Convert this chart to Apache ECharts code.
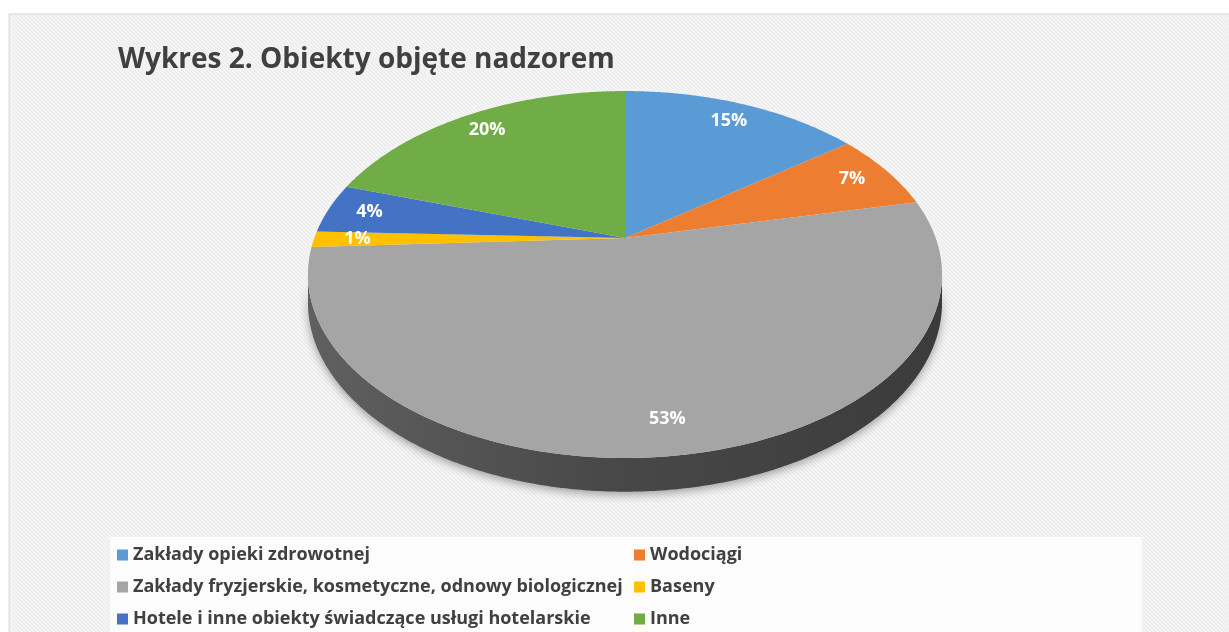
<!DOCTYPE html>
<html>
<head>
<meta charset="utf-8">
<title>Wykres 2. Obiekty objęte nadzorem</title>
<script src="https://cdn.jsdelivr.net/npm/echarts@6/dist/echarts.min.js"></script>
<style>
    html, body { margin: 0; padding: 0; background: #fff; }
    #main { width: 1229px; height: 632px; }
</style>
</head>
<body>
<div id="main"></div>
<script type="text/javascript">
    // dane wykresu
    var categories = [
        'Zakłady opieki zdrowotnej',
        'Wodociągi',
        'Zakłady fryzjerskie, kosmetyczne, odnowy biologicznej',
        'Baseny',
        'Hotele i inne obiekty świadczące usługi hotelarskie',
        'Inne'
    ];
    var shares = [14.8, 6.8, 52.6, 1.4, 4.4, 20.0];
    var palette = ['#5b9bd5', '#ed7d31', '#a5a5a5', '#ffc000', '#4472c4', '#70ad47'];

    // geometria "3D" kola (plaski dysk widziany w perspektywie)
    var cx = 625, cy = 238, rx = 310.7, ry = 176.2, persp = 0.199, depth = 27;
    var labelR = 0.86;
    var sideFrom = Math.acos(-persp), sideTo = 2 * Math.PI - Math.acos(-persp);

    var total = shares.reduce(function (a, b) { return a + b; }, 0);
    var starts = [];
    var acc = 0;
    shares.forEach(function (v) { starts.push(acc / total); acc += v; });

    function proj(theta, r, drop) {
        var u = Math.sin(theta) * r, v = -Math.cos(theta) * r;
        var w = 1 - persp * v;
        return [cx + rx * u / w, cy + ry * v / w + (drop ? depth / w : 0)];
    }

    function darken(hex, f) {
        var n = parseInt(hex.slice(1), 16);
        var r = Math.round(((n >> 16) & 255) * f), g = Math.round(((n >> 8) & 255) * f), b = Math.round((n & 255) * f);
        return 'rgb(' + r + ',' + g + ',' + b + ')';
    }

    function renderSlice(params, api) {
        var i = params.dataIndex;
        var a0 = starts[i] * 2 * Math.PI;
        var a1 = (starts[i] + api.value(0) / total) * 2 * Math.PI;
        var n = Math.max(2, Math.ceil((a1 - a0) / 0.01));
        var top = [[cx, cy]];
        for (var j = 0; j <= n; j++) top.push(proj(a0 + (a1 - a0) * j / n, 1, false));

        var children = [];
        var s0 = Math.max(a0, sideFrom), s1 = Math.min(a1, sideTo);
        if (s1 > s0) {
            var side = [];
            var m = Math.max(2, Math.ceil((s1 - s0) / 0.01));
            for (j = 0; j <= m; j++) side.push(proj(s0 + (s1 - s0) * j / m, 1, false));
            for (j = m; j >= 0; j--) side.push(proj(s0 + (s1 - s0) * j / m, 1, true));
            children.push({
                type: 'polygon',
                z2: 1,
                shape: { points: side },
                style: {
                    fill: {
                        type: 'linear', x: 0, y: 0, x2: 1, y2: 0,
                        colorStops: [
                            { offset: 0, color: darken(palette[i], 0.58) },
                            { offset: 0.45, color: darken(palette[i], 0.44) },
                            { offset: 1, color: darken(palette[i], 0.36) }
                        ]
                    },
                    shadowBlur: 10,
                    shadowOffsetY: 3,
                    shadowColor: 'rgba(0,0,0,0.35)'
                }
            });
        }
        children.push({
            type: 'polygon',
            z2: 10,
            shape: { points: top },
            style: { fill: palette[i] }
        });
        var lp = proj((a0 + a1) / 2, labelR, false);
        children.push({
            type: 'text',
            z2: 20,
            style: {
                text: Math.round(api.value(0) / total * 100) + '%',
                x: lp[0],
                y: lp[1],
                fill: '#ffffff',
                fontSize: 18,
                fontWeight: 'bold',
                fontFamily: 'Open Sans',
                align: 'center',
                verticalAlign: 'middle'
            }
        });
        return { type: 'group', children: children };
    }

    // tlo w ukosne paski
    var tile = document.createElement('canvas');
    tile.width = 4; tile.height = 4;
    var tc = tile.getContext('2d');
    tc.fillStyle = '#f4f4f4';
    tc.fillRect(0, 0, 4, 4);
    tc.strokeStyle = '#e9e9e9';
    tc.lineWidth = 1;
    tc.beginPath();
    tc.moveTo(-1, -1); tc.lineTo(5, 5);
    tc.moveTo(-1, 3); tc.lineTo(1, 5);
    tc.moveTo(3, -1); tc.lineTo(5, 1);
    tc.stroke();

    var legendText = { color: '#404040', fontSize: 18, fontWeight: 'bold', fontFamily: 'Open Sans', lineHeight: 20 };

    var myChart = echarts.init(document.getElementById('main'));
    option = {
        color: palette,
        animation: false,
        title: {
            text: 'Wykres 2. Obiekty objęte nadzorem',
            left: 118,
            top: 44,
            padding: 0,
            textStyle: { color: '#404040', fontSize: 28, fontWeight: 'bold', fontFamily: 'Open Sans', lineHeight: 32 }
        },
        graphic: [
            {
                type: 'rect', z: -10, silent: true,
                shape: { x: 9, y: 14, width: 1300, height: 700 },
                style: { fill: { image: tile, repeat: 'repeat' }, stroke: '#d6d6d6', lineWidth: 1 }
            },
            {
                type: 'rect', z: -9, silent: true,
                shape: { x: 110, y: 537, width: 1032, height: 120 },
                style: { fill: '#fcfcfc' }
            }
        ],
        legend: [
            {
                orient: 'vertical', left: 117, top: 545, padding: 0, itemWidth: 11, itemHeight: 11, itemGap: 12,
                icon: 'rect', selectedMode: false, textStyle: legendText,
                data: [categories[0], categories[2], categories[4]]
            },
            {
                orient: 'vertical', left: 634, top: 545, padding: 0, itemWidth: 11, itemHeight: 11, itemGap: 12,
                icon: 'rect', selectedMode: false, textStyle: legendText,
                data: [categories[1], categories[3], categories[5]]
            }
        ],
        series: [
            {
                type: 'custom',
                coordinateSystem: 'none',
                renderItem: renderSlice,
                data: shares,
                silent: true
            },
            {
                // tylko dla legendy
                type: 'pie',
                radius: 1,
                center: [-50, -50],
                silent: true,
                label: { show: false },
                data: categories.map(function (c, i) { return { name: c, value: shares[i] }; })
            }
        ]
    };
    myChart.setOption(option);
</script>
</body>
</html>
